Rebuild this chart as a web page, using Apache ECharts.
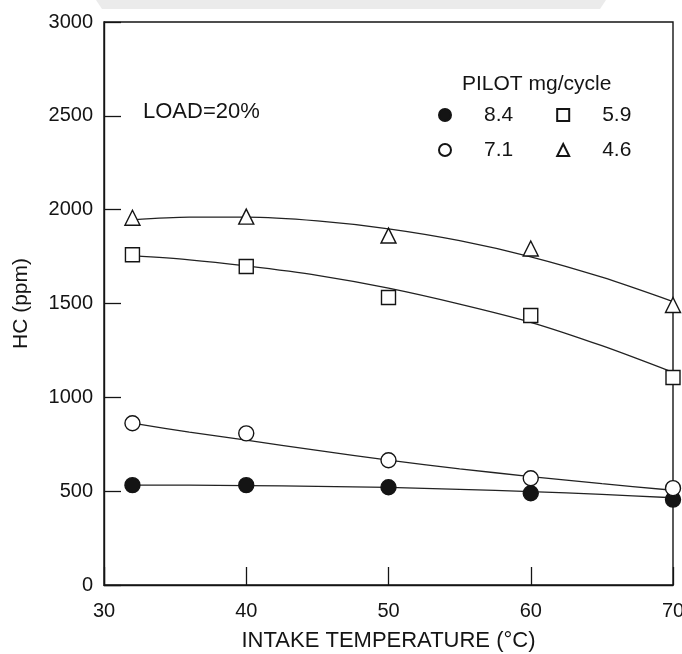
<!DOCTYPE html>
<html>
<head>
<meta charset="utf-8">
<script src="https://cdn.jsdelivr.net/npm/echarts@6/dist/echarts.min.js"></script>
<style>
  html, body { margin: 0; padding: 0; background: #fff; }
  #chart { width: 682px; height: 654px; }
</style>
</head>
<body>
<div id="chart"></div>
<script>
// Intake temperature (°C) at which HC was measured
const temperatures = [32, 40, 50, 60, 70];

// Measured HC (ppm) for each pilot quantity (mg/cycle)
const pilot84 = [532, 532, 521, 489, 455];
const pilot71 = [862, 808, 665, 569, 516];
const pilot59 = [1760, 1697, 1532, 1436, 1106];
const pilot46 = [1957, 1963, 1862, 1793, 1492];

// Fitted trend curves
const curveTemps = [32, 36, 40, 45, 50, 55, 60, 65, 70];
const fit84 = [532, 532, 530, 526, 520, 510, 498, 483, 465];
const fit71 = [862, 815, 772, 717, 665, 619, 578, 540, 505];
const fit59 = [1755, 1733, 1700, 1650, 1582, 1497, 1400, 1275, 1133];
const fit46 = [1946, 1960, 1960, 1940, 1898, 1835, 1749, 1640, 1510];

const xTicks = [30, 40, 50, 60, 70];
const yTicks = [0, 500, 1000, 1500, 2000, 2500, 3000];

const FONT = '"Liberation Sans", Arial, sans-serif';
const INK = '#141414';

function pairs(xs, values) {
  return xs.map((t, i) => [t, values[i]]);
}

function markerSeries(name, values, symbol, size, filled) {
  return {
    name: name,
    type: 'scatter',
    data: pairs(temperatures, values),
    symbol: symbol,
    symbolSize: size,
    z: 5,
    itemStyle: {
      color: filled ? INK : '#fff',
      borderColor: INK,
      borderWidth: 1.4,
      opacity: 1
    }
  };
}

function curveSeries(values) {
  return {
    type: 'line',
    data: pairs(curveTemps, values),
    smooth: 0.3,
    showSymbol: false,
    silent: true,
    z: 3,
    lineStyle: { color: '#222', width: 1.3 }
  };
}

const legendText = {
  fontFamily: FONT, fontSize: 21, color: INK,
  lineHeight: 24, padding: [0, 0, 0, 28]
};

const chart = echarts.init(document.getElementById('chart'));
chart.setOption({
  animation: false,
  backgroundColor: '#fff',
  grid: {
    left: 104, right: 9, top: 22, bottom: 69,
    outerBoundsMode: 'none',
    containLabel: false,
    show: true, borderColor: INK, borderWidth: 1.4
  },
  xAxis: {
    type: 'value',
    min: 30, max: 70, interval: 10,
    name: 'INTAKE TEMPERATURE (°C)',
    nameLocation: 'middle',
    nameGap: 45,
    nameTextStyle: { fontFamily: FONT, fontSize: 22, color: INK },
    axisLine: { lineStyle: { color: INK, width: 1.4 } },
    axisTick: { inside: true, length: 18, lineStyle: { color: INK, width: 1.3 } },
    axisLabel: {
      fontFamily: FONT, fontSize: 20, color: INK, margin: 16,
      formatter: v => (xTicks.includes(v) ? String(v) : '')
    },
    splitLine: { show: false }
  },
  yAxis: {
    type: 'value',
    min: 0, max: 3000, interval: 500,
    name: 'HC (ppm)',
    nameLocation: 'middle',
    nameGap: 72,
    nameRotate: 90,
    nameTextStyle: { fontFamily: FONT, fontSize: 21, color: INK },
    axisLine: { lineStyle: { color: INK, width: 1.4 } },
    axisTick: { inside: true, length: 17, lineStyle: { color: INK, width: 1.3 } },
    axisLabel: {
      fontFamily: FONT, fontSize: 20, color: INK, margin: 11,
      formatter: v => (yTicks.includes(v) ? String(v) : '')
    },
    splitLine: { show: false }
  },
  legend: [
    {
      data: [
        { name: '8.4', icon: 'circle' },
        { name: '5.9', icon: 'rect' }
      ],
      left: 438, top: 103, padding: 0,
      itemWidth: 12, itemHeight: 12, itemGap: 43,
      textStyle: legendText,
      selectedMode: false
    },
    {
      data: [
        { name: '7.1', icon: 'circle' },
        { name: '4.6', icon: 'triangle' }
      ],
      left: 438, top: 138, padding: 0,
      itemWidth: 12, itemHeight: 12, itemGap: 43,
      textStyle: legendText,
      selectedMode: false
    }
  ],
  graphic: [
    {
      type: 'polygon',
      silent: true,
      z: -10,
      shape: { points: [[96, 0], [606, 0], [600, 9], [102, 9]] },
      style: { fill: '#ebebeb' }
    },
    {
      type: 'text',
      left: 462, top: 74,
      style: { text: 'PILOT mg/cycle', font: '21px ' + FONT, fill: INK }
    },
    {
      type: 'text',
      left: 143, top: 101,
      style: { text: 'LOAD=20%', font: '22px ' + FONT, fill: INK }
    }
  ],
  series: [
    curveSeries(fit84),
    curveSeries(fit71),
    curveSeries(fit59),
    curveSeries(fit46),
    markerSeries('8.4', pilot84, 'circle', 15, true),
    markerSeries('7.1', pilot71, 'circle', 15, false),
    markerSeries('5.9', pilot59, 'rect', 14, false),
    markerSeries('4.6', pilot46, 'triangle', 15, false)
  ]
});
</script>
</body>
</html>
